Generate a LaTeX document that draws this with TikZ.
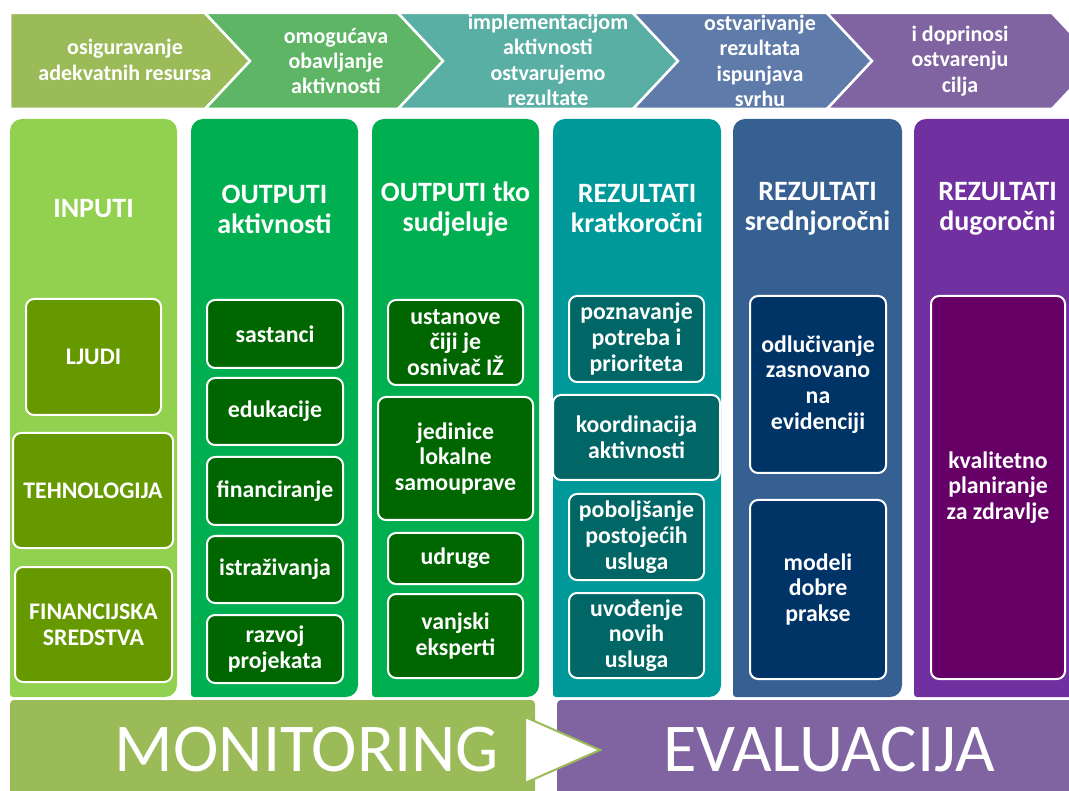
\documentclass[tikz,border=0pt]{standalone}
\usepackage{fontspec}
\setmainfont{Carlito}
\definecolor{ch1}{HTML}{9BBB59}
\definecolor{ch2}{HTML}{5DB565}
\definecolor{ch3}{HTML}{5AAFA5}
\definecolor{ch4}{HTML}{5F7BAA}
\definecolor{ch5}{HTML}{8064A2}
\definecolor{p1}{HTML}{92D050}
\definecolor{p2}{HTML}{00B050}
\definecolor{p4}{HTML}{009999}
\definecolor{p5}{HTML}{376092}
\definecolor{p6}{HTML}{7030A0}
\definecolor{i1}{HTML}{669900}
\definecolor{i2}{HTML}{006600}
\definecolor{i4}{HTML}{006666}
\definecolor{i5}{HTML}{003366}
\definecolor{i6}{HTML}{660066}
\begin{document}
\begin{tikzpicture}[x=1pt,y=-1pt,
  chev/.style={draw=white, line width=2.5pt, line join=miter},
  ctext/.style={text=white, font=\bfseries\fontsize{22}{25.3}\selectfont, align=center, inner sep=0pt},
  ttl/.style={text=white, font=\bfseries\fontsize{28}{30}\selectfont, align=center, inner sep=0pt},
  ibox/.style={draw=white, line width=2pt, rounded corners=8pt, text=white, font=\bfseries\fontsize{23.8}{25.7}\selectfont, align=center, inner sep=0pt},
  big/.style={text=white, font=\fontsize{68.5}{72}\selectfont, inner sep=0pt}]
\useasboundingbox (0,0) rectangle (1069,791);
% top chevrons
\fill[ch1, chev] (10,13) -- (205,13) -- (250,61) -- (205,109) -- (10,109) -- cycle;
\fill[ch2, chev] (205,13) -- (398,13) -- (443,61) -- (398,109) -- (205,109) -- (250,61) -- cycle;
\fill[ch3, chev] (398,13) -- (633,13) -- (678,61) -- (633,109) -- (398,109) -- (443,61) -- cycle;
\fill[ch4, chev] (633,13) -- (827,13) -- (872,61) -- (827,109) -- (633,109) -- (678,61) -- cycle;
\fill[ch5, chev] (827,13) -- (1052,13) -- (1097,61) -- (1052,109) -- (827,109) -- (872,61) -- cycle;
\node[ctext] (c1) at (125,60) {osiguravanje\\adekvatnih resursa};
\node[ctext] (c2) at (336,61) {omogućava\\obavljanje\\aktivnosti};
\node[ctext] (c3) at (548,60) {implementacijom\\aktivnosti\\ostvarujemo\\rezultate};
\node[ctext] (c4) at (760,61) {ostvarivanje\\rezultata\\ispunjava\\svrhu};
\node[ctext] (c5) at (960,61) {i doprinosi\\ostvarenju\\cilja};
% panels
\fill[p1] (10,697) [rounded corners=12pt] -- (10,119) -- (177,119) -- (177,697) [rounded corners=3pt] -- cycle;
\fill[p2] (191,697) [rounded corners=12pt] -- (191,119) -- (358,119) -- (358,697) [rounded corners=3pt] -- cycle;
\fill[p2] (372,697) [rounded corners=12pt] -- (372,119) -- (539,119) -- (539,697) [rounded corners=3pt] -- cycle;
\fill[p4] (553,697) [rounded corners=12pt] -- (553,119) -- (721,119) -- (721,697) [rounded corners=3pt] -- cycle;
\fill[p5] (733,697) [rounded corners=12pt] -- (733,119) -- (902,119) -- (902,697) [rounded corners=3pt] -- cycle;
\fill[p6] (914,697) [rounded corners=12pt] -- (914,119) -- (1081,119) -- (1081,697) [rounded corners=3pt] -- cycle;
\node[ttl] (t1) at (93.5,209) {INPUTI};
\node[ttl] (t2) at (274.5,209) {OUTPUTI\\aktivnosti};
\node[ttl] (t3) at (455.5,209) {OUTPUTI tko\\sudjeluje};
\node[ttl] (t4) at (637,209) {REZULTATI\\kratkoročni};
\node[ttl] (t5) at (817.5,209) {REZULTATI\\srednjoročni};
\node[ttl] (t6) at (997.5,209) {REZULTATI\\dugoročni};
% column 1
\node[ibox, fill=i1, minimum width=135pt, minimum height=116pt] (ljudi) at (93.5,357) {LJUDI};
\node[ibox, fill=i1, minimum width=160pt, minimum height=115pt] (teh) at (93,490.5) {TEHNOLOGIJA};
\node[ibox, fill=i1, minimum width=157pt, minimum height=115pt] (fin) at (93.5,624.5) {FINANCIJSKA\\SREDSTVA};
% column 2
\node[ibox, fill=i2, minimum width=136pt, minimum height=68pt] (sast) at (275,334) {sastanci};
\node[ibox, fill=i2, minimum width=136pt, minimum height=67pt] (edu) at (275,411.5) {edukacije};
\node[ibox, fill=i2, minimum width=136pt, minimum height=68pt] (finan) at (275,491) {financiranje};
\node[ibox, fill=i2, minimum width=136pt, minimum height=67pt] (istr) at (275,569.5) {istraživanja};
\node[ibox, fill=i2, minimum width=136pt, minimum height=68pt] (razv) at (275,649) {razvoj\\projekata};
% column 3
\node[ibox, fill=i2, minimum width=135pt, minimum height=85pt] (ust) at (455.5,342.5) {ustanove\\čiji je\\osnivač IŽ};
\node[ibox, fill=i2, minimum width=155pt, minimum height=123pt] (jed) at (455.5,458.5) {jedinice\\lokalne\\samouprave};
\node[ibox, fill=i2, minimum width=135pt, minimum height=51pt] (udr) at (455.5,558.5) {udruge};
\node[ibox, fill=i2, minimum width=135pt, minimum height=84pt] (vanj) at (455.5,636) {vanjski\\eksperti};
% column 4
\node[ibox, fill=i4, minimum width=135pt, minimum height=86pt] (pozn) at (636.5,339) {poznavanje\\potreba i\\prioriteta};
\node[ibox, fill=i4, minimum width=167pt, minimum height=85pt] (koord) at (636.5,437.5) {koordinacija\\aktivnosti};
\node[ibox, fill=i4, minimum width=135pt, minimum height=86pt] (pobo) at (636.5,537) {poboljšanje\\postojećih\\usluga};
\node[ibox, fill=i4, minimum width=135pt, minimum height=85pt] (uvod) at (636.5,635.5) {uvođenje\\novih\\usluga};
% column 5
\node[ibox, fill=i5, minimum width=136pt, minimum height=177pt] (odl) at (818,384.5) {odlučivanje\\zasnovano\\na\\evidenciji};
\node[ibox, fill=i5, minimum width=136pt, minimum height=179pt] (mod) at (818,589.5) {modeli\\dobre\\prakse};
% column 6
\node[ibox, fill=i6, minimum width=134pt, minimum height=383pt] (kval) at (998,487.5) {kvalitetno\\planiranje\\za zdravlje};
% bottom bars
\fill[ch1, rounded corners=4pt] (10,800) -- (10,700) -- (535,700) -- (535,800) -- cycle;
\fill[ch5, rounded corners=4pt] (557,800) -- (557,700) -- (1085,700) -- (1085,800) -- cycle;
\filldraw[fill=white, draw=ch1, line width=2pt, line join=miter] (525,717) -- (600,750) -- (525,783) -- cycle;
\node[big] (mon) at (307,750) {MONITORING};
\node[big] (eva) at (829,750) {EVALUACIJA};
\end{tikzpicture}
\end{document}
